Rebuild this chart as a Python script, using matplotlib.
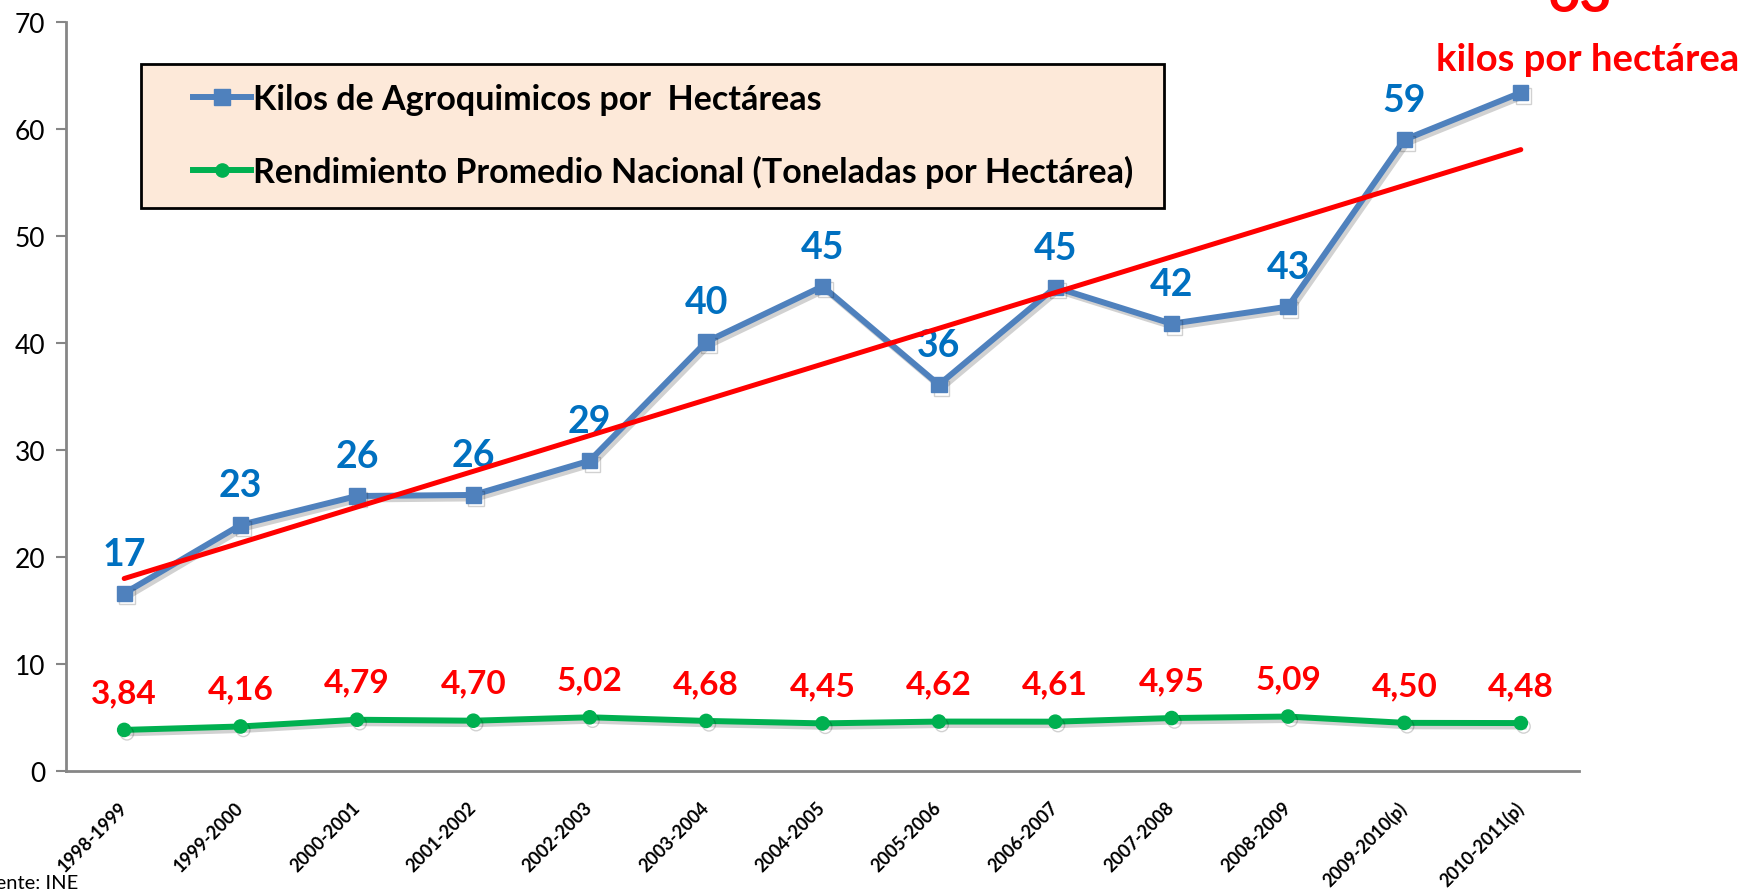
import numpy as np
import matplotlib
matplotlib.use("Agg")
import matplotlib.pyplot as plt
import matplotlib.patheffects as pe
from matplotlib.lines import Line2D
from matplotlib.patches import Rectangle

periodos = ['1998-1999', '1999-2000', '2000-2001', '2001-2002', '2002-2003',
            '2003-2004', '2004-2005', '2005-2006', '2006-2007', '2007-2008',
            '2008-2009', '2009-2010(p)', '2010-2011(p)']
# kilos de agroquimicos por hectarea
kilos = [16.6, 23.0, 25.7, 25.8, 29.0, 40.1, 45.3, 36.1, 45.2, 41.8, 43.4, 59.0, 63.4]
kilos_etiquetas = ['17', '23', '26', '26', '29', '40', '45', '36', '45', '42', '43', '59', '']
# rendimiento promedio nacional (toneladas por hectarea)
rendimiento = [3.84, 4.16, 4.79, 4.70, 5.02, 4.68, 4.45, 4.62, 4.61, 4.95, 5.09, 4.50, 4.48]

plt.rcParams['font.family'] = ['Lato', 'DejaVu Sans']

AZUL = '#4F81BD'
AZUL_TXT = '#0070C0'
VERDE = '#00B050'
ROJO = '#FF0000'

fig = plt.figure(figsize=(17.5, 8.95), dpi=100)
ax = fig.add_axes([66/1750, 1 - 772/895, (1579-66)/1750, (772-23)/895])

x = np.arange(len(periodos))
sombra = [pe.SimpleLineShadow(offset=(2, -2.5), shadow_color='black', alpha=0.18), pe.Normal()]

ax.plot(x, kilos, color=AZUL, lw=4.3, marker='s', ms=11, mec=AZUL, zorder=3, path_effects=sombra)
ax.plot(x, rendimiento, color=VERDE, lw=4.3, marker='o', ms=9.5, mec=VERDE, zorder=3, path_effects=sombra)

# linea de tendencia lineal
a, b = np.polyfit(x, kilos, 1)
ax.plot(x, a * x + b, color=ROJO, lw=3.6, zorder=5, solid_capstyle='round')

for xi, yi, t in zip(x, kilos, kilos_etiquetas):
    if t:
        ax.annotate(t, (xi, yi), xytext=(0, 28.5), textcoords='offset points',
                    ha='center', va='center', fontsize=27, fontweight='bold',
                    color=AZUL_TXT, zorder=4)
for xi, yi in zip(x, rendimiento):
    ax.annotate(f'{yi:.2f}'.replace('.', ','), (xi, yi), xytext=(0, 27),
                textcoords='offset points', ha='center', va='center',
                fontsize=24, fontweight='bold', color=ROJO, zorder=4)

ax.set_xlim(-0.5, 12.5)
ax.set_ylim(0, 70)
ax.set_yticks(range(0, 71, 10))
ax.set_xticks(x)
ax.set_xticklabels(periodos, rotation=45, ha='right', va='center', rotation_mode='anchor',
                   fontsize=13, fontweight='bold')
ax.tick_params(axis='y', labelsize=19, length=7, width=1.5, color='#868686', pad=8)
ax.tick_params(axis='x', length=0, pad=24)
for s in ['top', 'right']:
    ax.spines[s].set_visible(False)
for s in ['left', 'bottom']:
    ax.spines[s].set_color('#868686')
    ax.spines[s].set_linewidth(2)

# caja de la leyenda
caja = Rectangle((141/1750, 1 - 209/895), (1164-141)/1750, (209-65)/895,
                 transform=fig.transFigure, facecolor='#FDE9D9', edgecolor='black',
                 lw=2, zorder=6)
fig.patches.append(caja)

handles = [Line2D([], [], color=AZUL, lw=4.3, marker='s', ms=11),
           Line2D([], [], color=VERDE, lw=4.3, marker='o', ms=9.5)]
labels = ['Kilos de Agroquimicos por  Hectáreas',
          'Rendimiento Promedio Nacional (Toneladas por Hectárea)']
leg = fig.legend(handles, labels, loc='upper left', bbox_to_anchor=(193/1750, 1 - 84/895),
                 borderaxespad=0, borderpad=0, frameon=False, handlelength=1.7,
                 handletextpad=0.05, labelspacing=1.18,
                 prop={'size': 24.5, 'weight': 'bold'})
leg.set_zorder(7)

fig.text(1580/1750, 1 - 12/895, '63', ha='center', va='baseline', fontsize=40,
         fontweight='bold', color=ROJO)
fig.text(1588/1750, 1 - 71/895, 'kilos por hectárea', ha='center', va='baseline',
         fontsize=27.5, fontweight='bold', color=ROJO)
fig.text(78/1750, 1 - 889/895, 'Fuente: INE', ha='right', va='baseline', fontsize=14.5)

fig.savefig('out.png', dpi=100)
